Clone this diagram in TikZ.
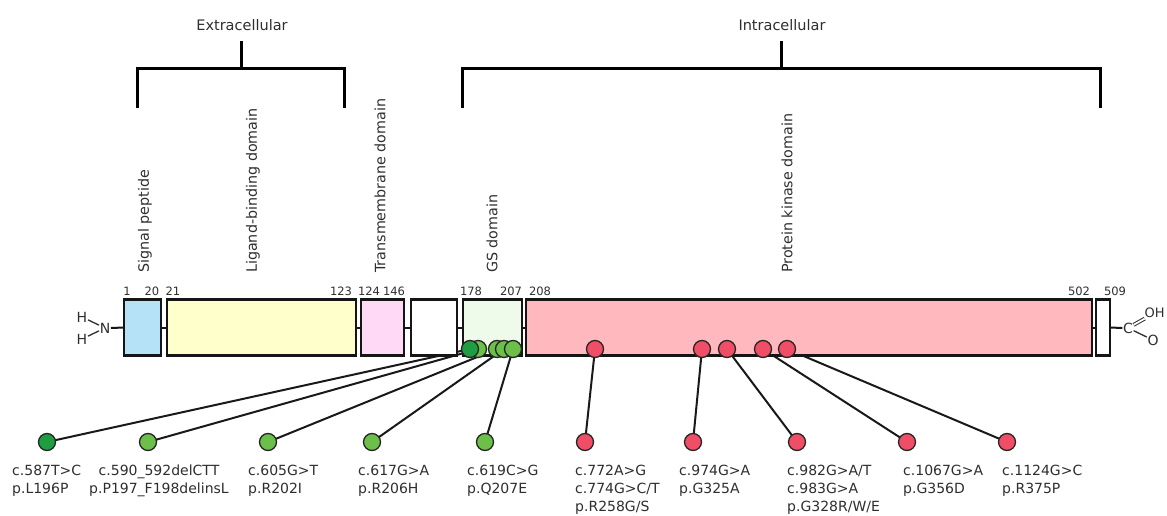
\documentclass[tikz,border=0pt]{standalone}
\usepackage{fontspec}
\setmainfont{DejaVu Sans}
\usetikzlibrary{backgrounds}
\definecolor{txt}{HTML}{2E2E2E}
\definecolor{edge}{HTML}{151515}
\definecolor{spfill}{HTML}{B5E2F6}
\definecolor{lbfill}{HTML}{FFFFCC}
\definecolor{tmfill}{HTML}{FFD9F6}
\definecolor{gsfill}{HTML}{EEFBEA}
\definecolor{pkfill}{HTML}{FFB8BD}
\definecolor{dgreen}{HTML}{1E9E40}
\definecolor{lgreen}{HTML}{6CC04A}
\definecolor{mred}{HTML}{F04D66}
\tikzset{
  domainbox/.style={draw=edge, line width=2.6pt, minimum height=56pt, inner sep=0pt, outer sep=0pt},
  link/.style={draw=edge, line width=2pt},
  bracketline/.style={draw=black, line width=3pt},
  mutline/.style={draw=black!90, line width=2pt},
  dot/.style={circle, draw=black!85, line width=1.3pt, minimum size=17pt, inner sep=0pt},
  gdot/.style={dot, fill=lgreen},
  ddot/.style={dot, fill=dgreen},
  rdot/.style={dot, fill=mred},
  numlab/.style={text=txt, font=\fontsize{11.5}{13}\selectfont, inner sep=0pt},
  domlab/.style={text=txt, font=\fontsize{14.3}{16}\selectfont, rotate=90, anchor=west, inner sep=0pt},
  reglab/.style={text=txt, font=\fontsize{14.5}{17}\selectfont, inner sep=0pt},
  mutlab/.style={text=txt, font=\fontsize{14}{18}\selectfont, inner sep=0pt, align=left, anchor=north west},
  chem/.style={text=txt, font=\fontsize{14}{16}\selectfont, inner sep=0.5pt},
  bond/.style={draw=txt, line width=1.3pt},
}
\begin{document}
\begin{tikzpicture}[x=1pt,y=-1pt]
\clip (0,0) rectangle (1167,516);

% region brackets
\node[reglab] (extra) at (242,25) {Extracellular};
\node[reglab] (intra) at (782,25) {Intracellular};
\coordinate (e1) at (137,108); \coordinate (e2) at (137,69);
\coordinate (e3) at (344,69); \coordinate (e4) at (344,108);
\coordinate (et) at (241,69); \coordinate (etop) at (241,41);
\draw[bracketline] (e1) -- (e2) -- (e3) -- (e4);
\draw[bracketline] (et) -- (etop);
\coordinate (i1) at (462,108); \coordinate (i2) at (462,69);
\coordinate (i3) at (1100,69); \coordinate (i4) at (1100,108);
\coordinate (it) at (781,69); \coordinate (itop) at (781,41);
\draw[bracketline] (i1) -- (i2) -- (i3) -- (i4);
\draw[bracketline] (it) -- (itop);

% domain labels
\node[domlab] (lsp) at (145,273) {Signal peptide};
\node[domlab] (llb) at (253,273) {Ligand-binding domain};
\node[domlab] (ltm) at (380,273) {Transmembrane domain};
\node[domlab] (lgs) at (492,273) {GS domain};
\node[domlab] (lpk) at (787,273) {Protein kinase domain};

% residue numbers
\node[numlab] (n1) at (127,291) {1};
\node[numlab] (n20) at (152,291) {20};
\node[numlab] (n21) at (173,291) {21};
\node[numlab] (n123) at (341,291) {123};
\node[numlab] (n124) at (369,291) {124};
\node[numlab] (n146) at (394,291) {146};
\node[numlab] (n178) at (471,291) {178};
\node[numlab] (n207) at (511,291) {207};
\node[numlab] (n208) at (540,291) {208};
\node[numlab] (n502) at (1079,291) {502};
\node[numlab] (n509) at (1115,291) {509};

% domain boxes
\node[domainbox, fill=spfill, minimum width=37pt] (sp) at (142.5,327.5) {};
\node[domainbox, fill=lbfill, minimum width=189pt] (lb) at (261.5,327.5) {};
\node[domainbox, fill=tmfill, minimum width=43pt] (tm) at (382.5,327.5) {};
\node[domainbox, fill=white, minimum width=46pt] (wb) at (434,327.5) {};
\node[domainbox, fill=gsfill, minimum width=59pt] (gs) at (492.5,327.5) {};
\node[domainbox, fill=pkfill, minimum width=566pt] (pk) at (809,327.5) {};
\node[domainbox, fill=white, minimum width=14pt] (ct) at (1103,327.5) {};
\draw[link] (sp.east) -- (lb.west);
\draw[link] (lb.east) -- (tm.west);
\draw[link] (tm.east) -- (wb.west);
\draw[link] (wb.east) -- (gs.west);
\draw[link] (gs.east) -- (pk.west);
\draw[link] (pk.east) -- (ct.west);

% N-terminus
\node[chem] (h1) at (82,317) {H};
\node[chem] (h2) at (82,339) {H};
\node[chem] (nn) at (105,328) {N};
\draw[bond] (h1) -- (nn);
\draw[bond] (h2) -- (nn);
\draw[link] (nn.east) -- (sp.west);
% C-terminus
\node[chem] (cc) at (1128,328) {C};
\node[chem, anchor=west, font=\fontsize{13}{15}\selectfont] (oh) at (1144,313) {OH};
\node[chem] (oo) at (1153,340) {O};
\draw[link] (ct.east) -- (cc.west);
\draw[bond, double=white, double distance=1.8pt, line width=1pt] (cc) -- (oh);
\draw[bond] (cc) -- (oo);

% mutation sites on the protein
\node[gdot] (g2t) at (478,349) {};
\node[ddot] (g1t) at (470,349) {};
\node[gdot] (g3t) at (497,349) {};
\node[gdot] (g4t) at (504,349) {};
\node[gdot] (g5t) at (513,349) {};
\node[rdot] (r1t) at (595,349) {};
\node[rdot] (r2t) at (702,349) {};
\node[rdot] (r3t) at (727,349) {};
\node[rdot] (r4t) at (763,349) {};
\node[rdot] (r5t) at (787,349) {};

% mutation markers below
\node[ddot] (g1b) at (47,442) {};
\node[gdot] (g2b) at (148,442) {};
\node[gdot] (g3b) at (268,442) {};
\node[gdot] (g4b) at (372,442) {};
\node[gdot] (g5b) at (485,442) {};
\node[rdot] (r1b) at (585,442) {};
\node[rdot] (r2b) at (693,442) {};
\node[rdot] (r3b) at (797,442) {};
\node[rdot] (r4b) at (907,442) {};
\node[rdot] (r5b) at (1007,442) {};

% connectors, behind the dots
\begin{pgfonlayer}{background}
\foreach \a/\b in {g1t/g1b,g2t/g2b,g3t/g3b,g4t/g4b,g5t/g5b,r1t/r1b,r2t/r2b,r3t/r3b,r4t/r4b,r5t/r5b}{
  \draw[mutline] (\a.center) -- (\b.center);
}
\end{pgfonlayer}

% mutation labels
\node[mutlab] (m1) at (12,465) {c.587T>C\\p.L196P};
\node[mutlab, anchor=north, align=center] (m2) at (159,465) {c.590\_592delCTT\\p.P197\_F198delinsL};
\node[mutlab] (m3) at (248,465) {c.605G>T\\p.R202I};
\node[mutlab] (m4) at (358,465) {c.617G>A\\p.R206H};
\node[mutlab] (m5) at (467,465) {c.619C>G\\p.Q207E};
\node[mutlab] (m6) at (575,465) {c.772A>G\\c.774G>C/T\\p.R258G/S};
\node[mutlab] (m7) at (679,465) {c.974G>A\\p.G325A};
\node[mutlab] (m8) at (787,465) {c.982G>A/T\\c.983G>A\\p.G328R/W/E};
\node[mutlab] (m9) at (903,465) {c.1067G>A\\p.G356D};
\node[mutlab] (m10) at (1002,465) {c.1124G>C\\p.R375P};
\end{tikzpicture}
\end{document}
